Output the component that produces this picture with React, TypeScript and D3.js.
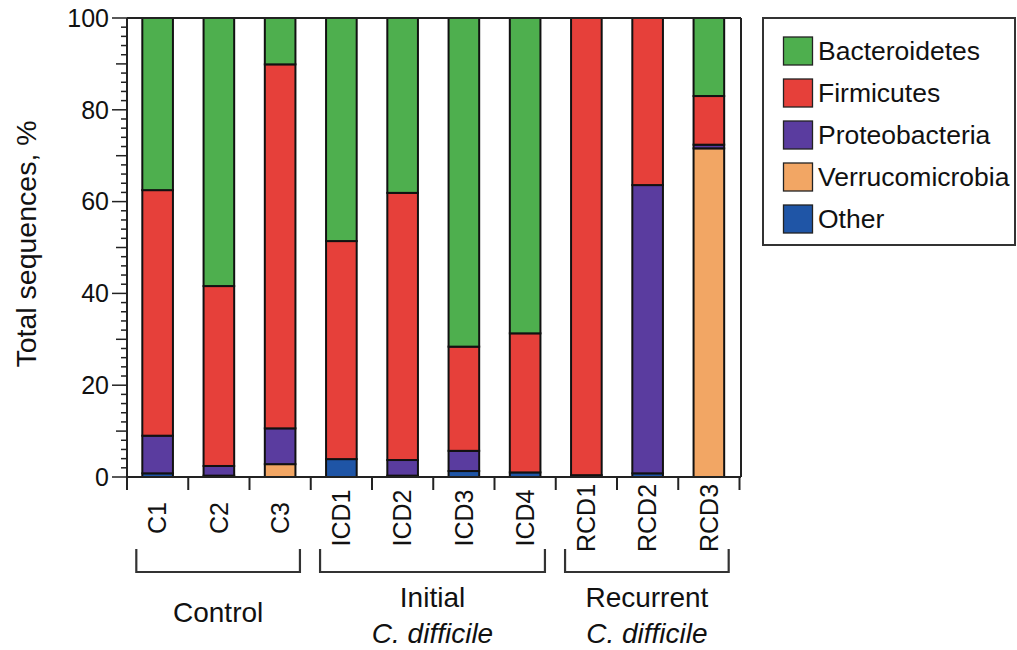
import React from "react";
import * as d3 from "d3";

const categories = ["C1", "C2", "C3", "ICD1", "ICD2", "ICD3", "ICD4", "RCD1", "RCD2", "RCD3"];
const other = [0.8, 0.3, 0, 3.9, 0.3, 1.3, 1.0, 0.4, 0.8, 0];
const verrucomicrobia = [0, 0, 2.8, 0, 0, 0, 0, 0, 0, 71.6];
const proteobacteria = [8.2, 2.1, 7.8, 0, 3.4, 4.4, 0, 0, 62.8, 0.8];
const firmicutes = [53.5, 39.2, 79.3, 47.5, 58.2, 22.7, 30.3, 99.6, 36.4, 10.6];
const bacteroidetes = [37.5, 58.4, 10.1, 48.6, 38.1, 71.6, 68.7, 0, 0, 17.0];

const seriesNames = ["Other", "Verrucomicrobia", "Proteobacteria", "Firmicutes", "Bacteroidetes"];
const seriesValues = [other, verrucomicrobia, proteobacteria, firmicutes, bacteroidetes];
const seriesColors = ["#1f55a6", "#f2a664", "#5a3c9f", "#e6403a", "#4eaf4e"];
const legendOrder = ["Bacteroidetes", "Firmicutes", "Proteobacteria", "Verrucomicrobia", "Other"];

const yTicks = [0, 20, 40, 60, 80, 100];
const groups = [
  { lines: ["Control"], italic: [false], from: "C1", to: "C3" },
  { lines: ["Initial", "C. difficile"], italic: [false, true], from: "ICD1", to: "ICD4" },
  { lines: ["Recurrent", "C. difficile"], italic: [false, true], from: "RCD1", to: "RCD3" },
];

const FONT = "'Liberation Sans', Arial, Helvetica, sans-serif";
const INK = "#222";

export default function App() {
  const W = 1017, H = 650;
  const left = 127, right = 741, top = 18, bottom = 477;

  const x = d3.scaleBand<string>().domain(categories).range([left, 739.5]).paddingInner(0.5).paddingOuter(0.25);
  const y = d3.scaleLinear().domain([0, 100]).range([bottom, top]);

  const table = categories.map((c, i) => {
    const row: any = { cat: c };
    seriesNames.forEach((s, k) => (row[s] = seriesValues[k][i]));
    return row;
  });
  const stacked = d3.stack<any>().keys(seriesNames)(table);

  const minorTicks = d3.range(0, 101, 2);
  const step = x.step();
  const boundaries = d3.range(0, categories.length + 1).map((i) => left + i * step);

  return (
    <svg width={W} height={H} style={{ position: "absolute", left: 0, top: 0, background: "#fff" }} fontFamily={FONT}>
      {/* bars */}
      {stacked.map((layer, k) => (
        <g key={layer.key} fill={seriesColors[k]}>
          {layer.map((d, i) =>
            d[1] - d[0] > 0 ? (
              <rect
                key={i}
                x={x(categories[i])}
                y={y(d[1])}
                width={x.bandwidth()}
                height={y(d[0]) - y(d[1])}
                stroke="#111"
                strokeWidth={2}
              />
            ) : null
          )}
        </g>
      ))}

      {/* frame */}
      <line x1={left} x2={right} y1={top} y2={top} stroke={INK} strokeWidth={2} />
      <line x1={right} x2={right} y1={top} y2={bottom} stroke={INK} strokeWidth={2} />
      <line x1={left} x2={right} y1={bottom} y2={bottom} stroke={INK} strokeWidth={2} />
      <line x1={left} x2={left} y1={top} y2={bottom + 13} stroke={INK} strokeWidth={2} />

      {/* y ticks */}
      {minorTicks.map((t) => {
        const len = t % 20 === 0 ? 15 : t % 10 === 0 ? 11 : 6;
        return <line key={t} x1={left - len} x2={left} y1={y(t)} y2={y(t)} stroke={INK} strokeWidth={1.5} />;
      })}
      {yTicks.map((t) => (
        <text key={t} x={109} y={y(t)} dy="0.35em" textAnchor="end" fontSize={25} fill="#111">
          {t}
        </text>
      ))}
      <text
        transform={`translate(36,244) rotate(-90)`}
        textAnchor="middle"
        fontSize={28.5}
        fill="#111"
      >
        Total sequences, %
      </text>

      {/* x ticks */}
      {boundaries.slice(1).map((bx, i) => (
        <line key={i} x1={bx} x2={bx} y1={bottom} y2={bottom + 13} stroke={INK} strokeWidth={2} />
      ))}
      {categories.map((c) => (
        <text
          key={c}
          transform={`translate(${(x(c) as number) + x.bandwidth() / 2},518) rotate(-90)`}
          textAnchor="middle"
          dy="0.35em"
          fontSize={25}
          fill="#111"
        >
          {c}
        </text>
      ))}

      {/* group brackets */}
      {groups.map((g, gi) => {
        const x1 = (x(g.from) as number) - 6;
        const x2 = (x(g.to) as number) + x.bandwidth() + 4.5;
        const cx = (x1 + x2) / 2;
        const single = g.lines.length === 1;
        return (
          <g key={gi}>
            <path
              d={`M${x1},549V572H${x2}V549`}
              fill="none"
              stroke="#333"
              strokeWidth={2.2}
            />
            {g.lines.map((ln, li) => (
              <text
                key={li}
                x={cx}
                y={single ? 622 : 607 + li * 36}
                textAnchor="middle"
                fontSize={28}
                fontStyle={g.italic[li] ? "italic" : "normal"}
                fill="#111"
              >
                {ln}
              </text>
            ))}
          </g>
        );
      })}

      {/* legend */}
      <rect x={763} y={18} width={252} height={227} fill="none" stroke="#333" strokeWidth={2} />
      {legendOrder.map((name, i) => {
        const k = seriesNames.indexOf(name);
        const yy = 37 + i * 42;
        return (
          <g key={name}>
            <rect x={783.5} y={yy} width={29} height={28} fill={seriesColors[k]} stroke="#222" strokeWidth={1.3} />
            <text x={818} y={yy + 14} dy="0.35em" fontSize={26.5} fill="#111">
              {name}
            </text>
          </g>
        );
      })}
    </svg>
  );
}
